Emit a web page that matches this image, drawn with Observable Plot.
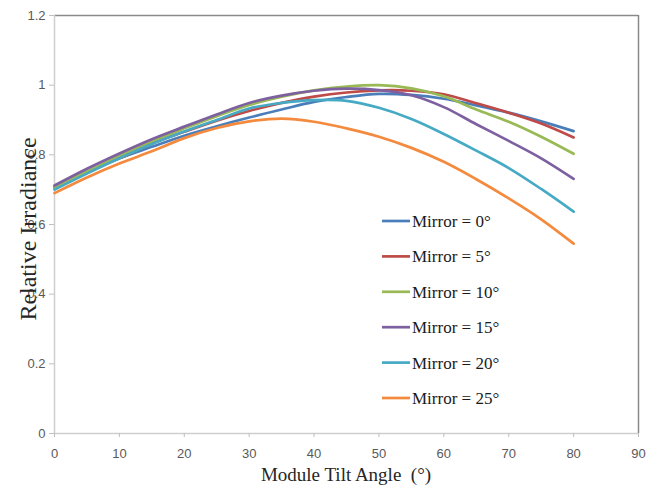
<!DOCTYPE html>
<html>
<head>
<meta charset="utf-8">
<script src="https://cdn.jsdelivr.net/npm/d3@7"></script>
<script src="https://cdn.jsdelivr.net/npm/@observablehq/plot@0.6"></script>
<style>
  html, body { margin: 0; padding: 0; background: #fff; }
  #chart { width: 647px; height: 485px; }
</style>
</head>
<body>
<div id="chart"></div>
<script>
// ---- data ----
const angles = [0, 5, 10, 15, 20, 25, 30, 35, 40, 45, 50, 55, 60, 65, 70, 75, 80];
const mirror0  = [0.708, 0.750, 0.790, 0.823, 0.855, 0.882, 0.907, 0.930, 0.952, 0.966, 0.975, 0.972, 0.961, 0.942, 0.921, 0.896, 0.868];
const mirror5  = [0.705, 0.750, 0.790, 0.832, 0.866, 0.898, 0.926, 0.949, 0.967, 0.979, 0.985, 0.984, 0.974, 0.948, 0.921, 0.890, 0.850];
const mirror10 = [0.705, 0.752, 0.797, 0.839, 0.876, 0.911, 0.943, 0.967, 0.985, 0.996, 1.000, 0.991, 0.968, 0.930, 0.895, 0.852, 0.803];
const mirror15 = [0.712, 0.760, 0.804, 0.845, 0.881, 0.916, 0.949, 0.970, 0.984, 0.990, 0.986, 0.971, 0.937, 0.888, 0.840, 0.790, 0.731];
const mirror20 = [0.700, 0.746, 0.790, 0.831, 0.867, 0.900, 0.933, 0.949, 0.957, 0.955, 0.935, 0.903, 0.860, 0.812, 0.762, 0.702, 0.637];
const mirror25 = [0.690, 0.735, 0.775, 0.810, 0.848, 0.877, 0.896, 0.904, 0.895, 0.876, 0.852, 0.820, 0.780, 0.730, 0.675, 0.615, 0.545];
const seriesNames = ["Mirror = 0°", "Mirror = 5°", "Mirror = 10°", "Mirror = 15°", "Mirror = 20°", "Mirror = 25°"];
const seriesValues = [mirror0, mirror5, mirror10, mirror15, mirror20, mirror25];
const seriesColors = ["#4a7ebb", "#be4b48", "#98b954", "#7d60a0", "#46aac5", "#f38a3e"];
const xTicks = [0, 10, 20, 30, 40, 50, 60, 70, 80, 90];
const yTicks = [0, 0.2, 0.4, 0.6, 0.8, 1, 1.2];
const xTitle = "Module Tilt Angle  (°)";
const yTitle = "Relative Irradiance";

// ---- layout ----
const W = 647, H = 485;
const mL = 54, mR = 9, mT = 15, mB = 52;

const table = seriesNames.flatMap((name, i) =>
  angles.map((a, j) => ({ series: name, angle: a, value: seriesValues[i][j] }))
);

const chart = Plot.plot({
  width: W, height: H,
  marginLeft: mL, marginRight: mR, marginTop: mT, marginBottom: mB,
  style: { fontFamily: "'Liberation Sans', Arial, sans-serif", fontSize: "13px", background: "#fff", color: "#595959" },
  x: { domain: [0, 90] },
  y: { domain: [0, 1.2] },
  color: { domain: seriesNames, range: seriesColors },
  marks: [
    Plot.ruleY([1.2], { stroke: "#8a8a8a", strokeWidth: 1.5 }),
    Plot.ruleX([90], { stroke: "#8a8a8a", strokeWidth: 1.5 }),
    Plot.ruleX([0], { stroke: "#cfcfcf", strokeWidth: 1.5 }),
    Plot.ruleY([0], { stroke: "#cfcfcf", strokeWidth: 1.5 }),
    Plot.axisX({ ticks: xTicks, tickSize: 4, tickPadding: 11, stroke: "#bfbfbf", fill: "#595959", label: null, tickFormat: d => String(d) }),
    Plot.axisY({ ticks: yTicks, tickSize: 5, tickPadding: 4, stroke: "#bfbfbf", fill: "#595959", label: null, tickFormat: d => String(+d.toFixed(1)) }),
    Plot.line(table, { x: "angle", y: "value", z: "series", stroke: "series", strokeWidth: 2.7, curve: "catmull-rom" })
  ]
});

document.getElementById("chart").appendChild(chart);

// ---- titles and legend (layout only) ----
const svg = d3.select(chart);
const serif = "'Liberation Serif', 'Times New Roman', serif";

svg.append("text")
  .attr("x", (mL + W - mR) / 2).attr("y", 481)
  .attr("text-anchor", "middle")
  .style("font-family", serif).style("font-size", "19px").style("fill", "#262626")
  .text(xTitle);

svg.append("text")
  .attr("transform", `translate(36,${(mT + H - mB) / 2 + 5}) rotate(-90)`)
  .attr("text-anchor", "middle")
  .style("font-family", serif).style("font-size", "24px").style("fill", "#262626")
  .text(yTitle);

const leg = svg.append("g").attr("text-anchor", "start");
const legX0 = 382, legX1 = 410, legTextX = 412, legY0 = 221, legStep = 35.4;
seriesNames.forEach((name, i) => {
  const y = legY0 + i * legStep;
  leg.append("line")
    .attr("x1", legX0).attr("x2", legX1).attr("y1", y).attr("y2", y)
    .attr("stroke", seriesColors[i]).attr("stroke-width", 2.7);
  leg.append("text")
    .attr("x", legTextX).attr("y", y).attr("dy", "0.35em")
    .attr("text-anchor", "start")
    .style("text-anchor", "start")
    .style("font-family", serif).style("font-size", "17px").style("fill", "#1a1a1a")
    .text(name);
});
</script>
</body>
</html>
